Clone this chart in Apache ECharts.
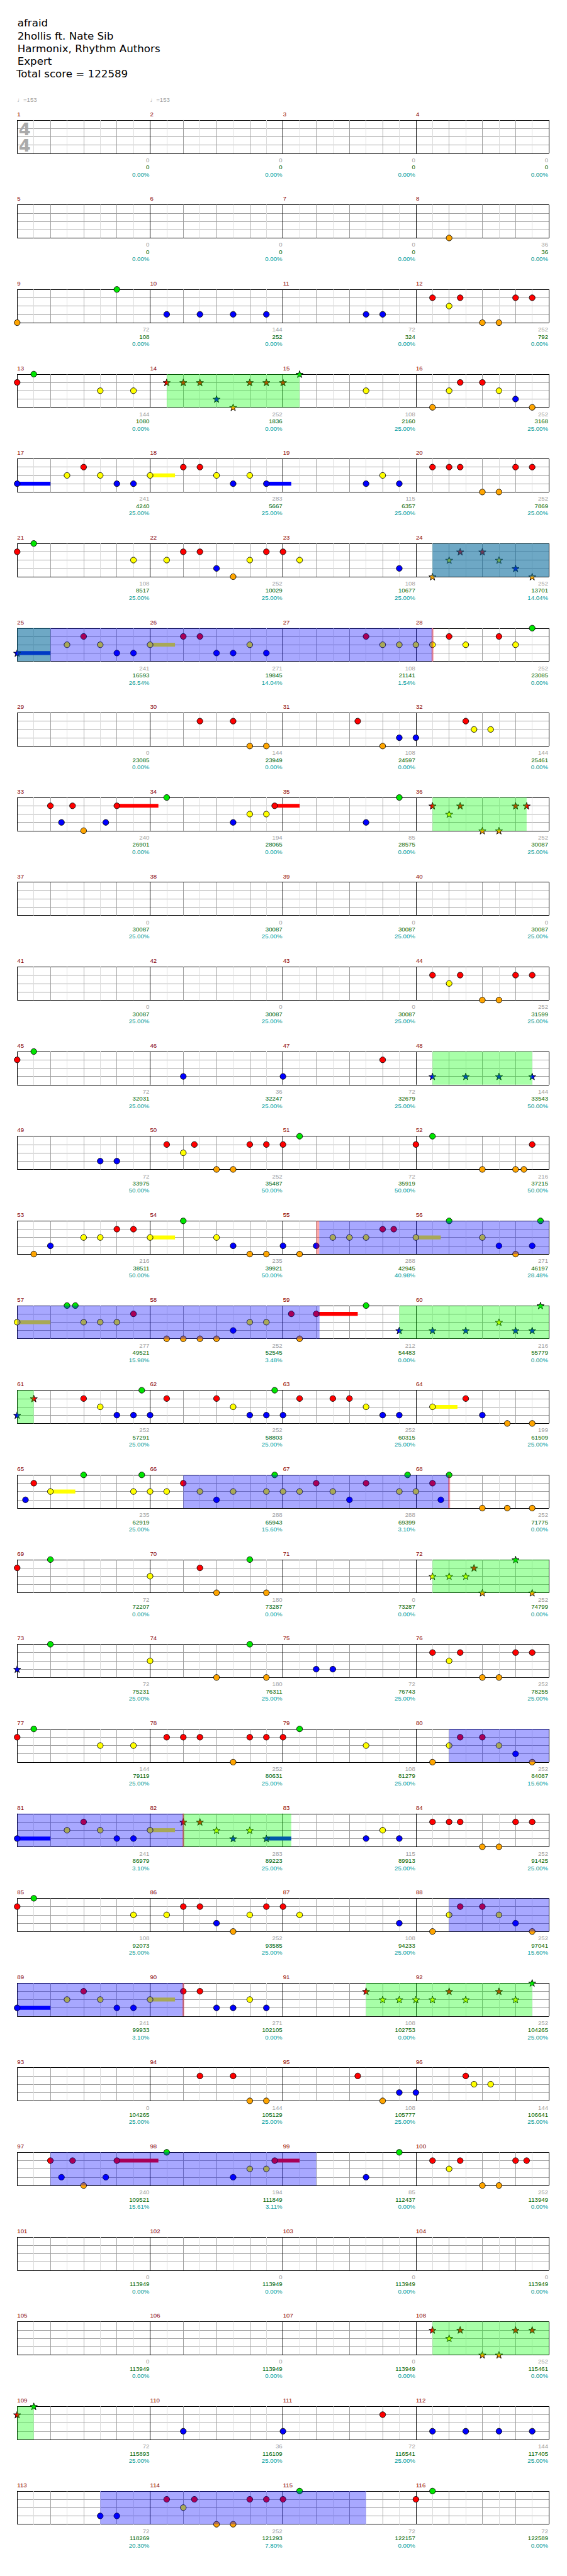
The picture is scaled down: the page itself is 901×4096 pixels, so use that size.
<!DOCTYPE html>
<html><head><meta charset="utf-8">
<script src="https://cdn.jsdelivr.net/npm/echarts@6/dist/echarts.min.js"></script>
<style>html,body{margin:0;padding:0;background:#fff}#c{width:901px;height:4096px}</style>
</head><body><div id="c"></div>
<script>
// ---------------- DATA ----------------
const titleLines = ['afraid', '2hollis ft. Nate Sib', 'Harmonix, Rhythm Authors', 'Expert', 'Total score = 122589'];
const tempoBeats = [0, 4];
const tempoValues = [153, 153];
const measureCount = 116;
const beatsPerMeasure = 4;
const measuresPerRow = 4;

// note positions in global beats (measure n starts at beat 4*(n-1))
const greenNotes = [35, 48.5, 56.5, 80.5, 111.5, 132.5, 139.5, 176.5, 200.5, 204.5, 213, 221, 223.75, 225.5, 225.75, 234.5, 239.75,
  243.75, 247.75, 258, 259.75, 263.75, 267.75, 269, 273, 279, 287, 289, 295, 304.5, 312.5, 336.5, 367.5, 388.5, 395.5, 432.5, 456.5, 460.5];
const redNotes = [44.5, 45.333, 47, 47.5, 48, 52.5, 53, 53.5, 55, 55.5, 56, 61.333, 62, 66, 69, 69.5, 76.5, 77, 77.333, 79, 79.5,
  80, 85, 85.5, 87.5, 88, 93.333, 94, 98, 101, 101.5, 106.5, 109, 110.5, 117.5, 118.5, 122.25, 125.5,
  129, 129.667, 131, 135.75, 140.5, 141.333, 143, 143.333, 172.5, 173.333, 175, 175.5, 176, 187,
  196.5, 197.333, 199, 199.5, 200, 204, 207.5, 211, 211.5, 219, 219.333, 227.5, 232.25, 233,
  240.5, 242, 244.5, 246, 248.5, 249.5, 250, 253.5, 256.5, 261, 265, 266.5, 268.5, 272, 277.5, 285.75,
  300.5, 301.333, 303, 303.5, 304, 308.5, 309, 309.5, 311, 311.5, 312, 317.333, 318, 322, 325, 325.5,
  332.5, 333, 333.333, 335, 335.5, 336, 341, 341.5, 343.5, 344, 349.333, 350, 354, 357, 357.5, 362.5, 365, 366.5,
  373.5, 374.5, 378.25, 381.5, 385, 385.667, 387, 391.75, 396.5, 397.333, 399, 399.333,
  428.5, 429.333, 431, 431.5, 432, 443, 452.5, 453.333, 455, 455.5, 456, 460];
const yellowNotes = [45, 50.5, 51.5, 58.5, 61, 62.5, 65.5, 66.5, 68, 70, 71, 75, 83.5, 84.5, 87, 88.5, 93, 94.5,
  97.5, 98.5, 100, 103, 107, 107.5, 108, 108.5, 109.5, 111, 125.75, 126.25, 135, 135.5, 141, 173, 197,
  210, 210.5, 212, 214, 217.5, 218, 218.5, 220, 222, 224, 226, 226.5, 227, 231, 231.5, 238.5,
  242.5, 246.5, 250.5, 252.5, 257, 259.5, 260, 260.5, 261.5, 262.5, 263.5, 264, 264.5, 265.5, 267.5, 268,
  276, 284.5, 285, 285.5, 292, 301, 306.5, 307.5, 314.5, 317, 318.5, 321.5, 322.5, 324, 326, 327, 331,
  339.5, 340.5, 343, 344.5, 349, 350.5, 353.5, 354.5, 356, 359, 363, 363.5, 364, 364.5, 365.5, 367,
  381.75, 382.25, 391, 391.5, 397, 429, 453];
const blueNotes = [36.5, 37.5, 38.5, 39.5, 42.5, 43, 54, 63, 64, 67, 67.5, 70.5, 71.5, 74.5, 75.5, 86, 91.5, 95,
  96, 99, 99.5, 102, 102.5, 103.5, 123.5, 124, 129.333, 130.667, 134.5, 138.5, 181, 184, 188.5, 189.5, 190.5, 191.5,
  194.5, 195, 209, 214.5, 216, 217, 222.5, 223.5, 230.5, 235.5, 236.5, 237.5, 239, 239.5,
  240, 243, 243.5, 244, 247, 247.5, 248, 251, 251.5, 254, 256.25, 262, 266, 268.75, 288, 297, 297.5, 319,
  320, 323, 323.5, 326.5, 327.5, 330.5, 331.5, 342, 347.5, 351, 352, 355, 355.5, 358, 358.5, 359.5,
  379.5, 380, 385.333, 386.667, 390.5, 394.5, 437, 440, 444.5, 445.5, 446.5, 447.5, 450.5, 451];
const orangeNotes = [29, 32, 46, 46.5, 54.5, 60.5, 63.5, 78, 78.5, 86.5, 92.5, 95.5, 119, 119.5, 123, 130, 142, 142.5,
  174, 174.5, 198, 198.5, 206, 207, 207.25, 208.5, 215, 215.5, 216.5, 223, 228.5, 229, 229.5, 230, 232.5,
  254.75, 255.5, 270, 270.75, 271.5, 278, 279.5, 286, 287.5, 294, 295.5, 302, 302.5, 310.5, 316.5, 319.5,
  334, 334.5, 342.5, 348.5, 351.5, 375, 375.5, 379, 386, 398, 398.5, 430, 430.5, 454, 454.5];

// sustains: lane, start beat, end beat
const sustainLanes = ['blue', 'yellow', 'blue', 'blue', 'yellow', 'red', 'red', 'yellow', 'yellow', 'yellow', 'red', 'yellow',
  'yellow', 'blue', 'yellow', 'blue', 'blue', 'yellow', 'red', 'red'];
const sustainStarts = [64, 68, 71.5, 96, 100, 131, 135.75, 212, 220, 224, 233, 252.5, 257, 320, 324, 327.5, 352, 356, 387, 391.75];
const sustainEnds = [65, 68.75, 72.25, 97, 100.75, 132.25, 136.5, 212.75, 220.75, 225, 234.25, 253.25, 257.75, 321, 324.75, 328.25, 353, 356.75, 388.25, 392.5];

// star power phrases (green) and activations (blue), in beats
const phraseStarts = [52.5, 92.5, 140.5, 188.5, 235.5, 284.5, 325, 362.5, 428.5];
const phraseEnds = [56.5, 97, 143.333, 191.5, 240.5, 288, 328.25, 367.5, 432.5];
const activationStarts = [92.5, 217.09, 261, 317, 349, 385, 450.5];
const activationEnds = [108.5, 233.1, 269, 325, 357, 393, 458.5];
const leewayStarts = [217, 108.47, 268.97, 324.97, 356.97];
const leewayEnds = [217.09, 108.53, 269.03, 325.03, 357.03];

// per-measure texts
const measureBase = [0,0,0,0, 0,0,0,36, 72,144,72,252, 144,252,108,252, 241,283,115,252, 108,252,108,252,
  241,271,108,252, 0,144,108,144, 240,194,85,252, 0,0,0,0, 0,0,0,252, 72,36,72,144, 72,252,72,216,
  216,235,288,271, 277,252,212,216, 252,252,252,199, 235,288,288,252, 72,180,0,252, 72,180,72,252,
  144,252,108,252, 241,283,115,252, 108,252,108,252, 241,271,108,252, 0,144,108,144, 240,194,85,252,
  0,0,0,0, 0,0,0,252, 72,36,72,144, 72,252,72,72];
const measureScore = [0,0,0,0, 0,0,0,36, 108,252,324,792, 1080,1836,2160,3168, 4240,5667,6357,7869,
  8517,10029,10677,13701, 16593,19845,21141,23085, 23085,23949,24597,25461, 26901,28065,28575,30087,
  30087,30087,30087,30087, 30087,30087,30087,31599, 32031,32247,32679,33543, 33975,35487,35919,37215,
  38511,39921,42945,46197, 49521,52545,54483,55779, 57291,58803,60315,61509, 62919,65943,69399,71775,
  72207,73287,73287,74799, 75231,76311,76743,78255, 79119,80631,81279,84087, 86979,89223,89913,91425,
  92073,93585,94233,97041, 99933,102105,102753,104265, 104265,105129,105777,106641, 109521,111849,112437,113949,
  113949,113949,113949,113949, 113949,113949,113949,115461, 115893,116109,116541,117405, 118269,121293,122157,122589];
const measureSpPercent = [0,0,0,0, 0,0,0,0, 0,0,0,0, 0,0,25,25, 25,25,25,25, 25,25,25,14.04,
  26.54,14.04,1.54,0, 0,0,0,0, 0,0,0,25, 25,25,25,25, 25,25,25,25, 25,25,25,50, 50,50,50,50,
  50,50,40.98,28.48, 15.98,3.48,0,0, 25,25,25,25, 25,15.60,3.10,0, 0,0,0,0, 25,25,25,25,
  25,25,25,15.60, 3.10,25,25,25, 25,25,25,15.60, 3.10,0,0,25, 25,25,25,25, 15.61,3.11,0,0,
  0,0,0,0, 0,0,0,0, 25,25,25,25, 20.30,7.80,0,0];

// ---------------- LAYOUT / STYLE ----------------
const S = 0.88;
const BEATS_PER_ROW = beatsPerMeasure * measuresPerRow;
const ROWS = Math.ceil(measureCount / measuresPerRow);
const LEFT = 31 * S, W = 960 * S, H = 60 * S;
const rowTop = k => (217 + 153 * k) * S;
const LANE_Y = { green: 4, red: 3, yellow: 2, blue: 1, orange: 0 };
const LANE_COLOR = { green: '#00e600', red: '#ff0000', yellow: '#ffff00', blue: '#0000ff', orange: '#ffa500' };
const OVERLAY_FILL = ['rgba(0,255,0,0.34)', 'rgba(0,0,255,0.34)', 'rgba(255,0,0,0.34)'];
const STAR = 'path://M0,-10 L2.35,-3.24 L9.51,-3.09 L3.80,1.24 L5.88,8.09 L0,4 L-5.88,8.09 L-3.80,1.24 L-9.51,-3.09 L-2.35,-3.24 Z';
const NOTE_SIZE = 10.5 * S, STAR_SIZE = 13 * S, SUSTAIN_H = 7 * S;

// fit font sizes to the reference text widths
const mctx = document.createElement('canvas').getContext('2d');
function fitSize(text, family, weight, targetW) {
  mctx.font = weight + ' 100px ' + family;
  return 100 * targetW / mctx.measureText(text).width;
}
const TITLE_FAMILY = '"DejaVu Sans", sans-serif';
const SMALL_FAMILY = '"Liberation Sans", Arial, sans-serif';
const titleSize = fitSize('Harmonix, Rhythm Authors', TITLE_FAMILY, 'normal', 258 * S);
const smallSize = Math.min(11 * S, fitSize('0.00%', SMALL_FAMILY, 'normal', 32 * S));
const TITLE_FONT = titleSize.toFixed(2) + 'px ' + TITLE_FAMILY;
const SMALL_FONT = smallSize.toFixed(2) + 'px ' + SMALL_FAMILY;

const lanes = [['green', greenNotes], ['red', redNotes], ['yellow', yellowNotes], ['blue', blueNotes], ['orange', orangeNotes]];
const phrases = phraseStarts.map((s, i) => [s, phraseEnds[i]]);
const activations = activationStarts.map((s, i) => [s, activationEnds[i]]);
const leeways = leewayStarts.map((s, i) => [s, leewayEnds[i]]);
const isStar = p => phrases.some(r => p >= r[0] - 1e-6 && p <= r[1] + 1e-6);
function clip(ranges, r0, r1) {
  const out = [];
  ranges.forEach(([a, b]) => { const s = Math.max(a, r0), e = Math.min(b, r1); if (e > s + 1e-9) out.push([s - r0, e - r0]); });
  return out;
}

const grids = [], xAxes = [], yAxes = [], series = [];
const xLineColors = ['#000000', '#dcdcdc', '#a0a0a0', '#dcdcdc', '#a0a0a0', '#dcdcdc', '#a0a0a0', '#dcdcdc'];
for (let k = 0; k < ROWS; k++) {
  const r0 = k * BEATS_PER_ROW, r1 = r0 + BEATS_PER_ROW;
  grids.push({ left: LEFT, top: rowTop(k), width: W, height: H, containLabel: false, outerBoundsMode: 'none' });
  xAxes.push({ gridIndex: k, type: 'value', min: 0, max: BEATS_PER_ROW, interval: 0.5,
    axisLine: { show: false }, axisTick: { show: false }, axisLabel: { show: false },
    splitLine: { show: true, showMinLine: true, showMaxLine: true, lineStyle: { color: xLineColors, width: 1 } } });
  yAxes.push({ gridIndex: k, type: 'value', min: 0, max: 4, interval: 1,
    axisLine: { show: false }, axisTick: { show: false }, axisLabel: { show: false },
    splitLine: { show: true, showMinLine: true, showMaxLine: true, lineStyle: { color: ['#000000', '#a0a0a0', '#a0a0a0', '#a0a0a0', '#000000'], width: 1 } } });

  // sustains
  const sus = [];
  sustainStarts.forEach((s, i) => {
    clip([[s, sustainEnds[i]]], r0, r1).forEach(([a, b]) => sus.push([a, b, LANE_Y[sustainLanes[i]]]));
  });
  series.push({ type: 'custom', xAxisIndex: k, yAxisIndex: k, z: 1, silent: true, clip: false, data: sus,
    renderItem: (params, api) => {
      const p0 = api.coord([api.value(0), api.value(2)]), p1 = api.coord([api.value(1), api.value(2)]);
      const lane = Object.keys(LANE_Y).find(n => LANE_Y[n] === api.value(2));
      return { type: 'rect', shape: { x: p0[0], y: p0[1] - SUSTAIN_H / 2, width: p1[0] - p0[0], height: SUSTAIN_H },
        style: { fill: LANE_COLOR[lane] } };
    } });

  // notes
  const pts = [];
  lanes.forEach(([name, arr]) => {
    arr.forEach(p => {
      if (p >= r0 - 1e-6 && p < r1 - 1e-6) {
        const star = isStar(p);
        pts.push({ value: [p - r0, LANE_Y[name]], symbol: star ? STAR : 'circle',
          symbolSize: star ? STAR_SIZE : NOTE_SIZE, itemStyle: { color: LANE_COLOR[name] } });
      }
    });
  });
  series.push({ type: 'scatter', xAxisIndex: k, yAxisIndex: k, z: 2, silent: true, clip: false, symbolKeepAspect: true,
    itemStyle: { borderColor: '#000', borderWidth: 0.9, opacity: 1 }, data: pts });

  // overlays
  const ov = [];
  clip(phrases, r0, r1).forEach(([a, b]) => ov.push([a, b, 0]));
  clip(activations, r0, r1).forEach(([a, b]) => ov.push([a, b, 1]));
  clip(leeways, r0, r1).forEach(([a, b]) => ov.push([a, b, 2]));
  series.push({ type: 'custom', xAxisIndex: k, yAxisIndex: k, z: 3, silent: true, clip: false, data: ov,
    renderItem: (params, api) => {
      const p0 = api.coord([api.value(0), 4]), p1 = api.coord([api.value(1), 0]);
      return { type: 'rect', shape: { x: p0[0], y: p0[1], width: p1[0] - p0[0], height: p1[1] - p0[1] },
        style: { fill: OVERLAY_FILL[api.value(2)] } };
    } });
}

const chart = echarts.init(document.getElementById('c'), null, { renderer: 'svg', width: 901, height: 4096 });
chart.setOption({ animation: false, backgroundColor: '#ffffff', grid: grids, xAxis: xAxes, yAxis: yAxes, series: series });

// ---------------- TEXT ----------------
const g = [];
titleLines.forEach((t, i) => {
  g.push({ type: 'text', silent: true, x: (i === 4 ? 29.5 : 31.5) * S, y: (42 + 23 * i) * S,
    style: { text: t, font: TITLE_FONT, fill: '#000', align: 'left', verticalAlign: 'middle' } });
});
const px = (k, x, y) => chart.convertToPixel({ gridIndex: k }, [x, y]);
// tempo marks
tempoBeats.forEach((b, i) => {
  const k = Math.floor(b / BEATS_PER_ROW);
  const p = px(k, b - k * BEATS_PER_ROW, 4);
  g.push({ type: 'text', silent: true, x: p[0], y: p[1] - 37 * S,
    style: { text: '\u2669=' + tempoValues[i], font: SMALL_FONT, fill: '#a0a0a0', align: 'left', verticalAlign: 'middle' } });
});
// time signature
{
  const p = px(0, 0, 4);
  ['4', '4'].forEach((d, i) => g.push({ type: 'text', silent: true, x: p[0] + 13.5 * S, y: p[1] + (16.3 + 30 * i) * S,
    style: { text: d, font: 'bold ' + (31 * S).toFixed(1) + 'px "DejaVu Sans", sans-serif', fill: '#aaaaaa', align: 'center', verticalAlign: 'middle' } }));
}
for (let m = 0; m < measureCount; m++) {
  const k = Math.floor(m / measuresPerRow);
  const j = m % measuresPerRow;
  const start = px(k, j * beatsPerMeasure, 4);
  const end = px(k, (j + 1) * beatsPerMeasure, 0);
  g.push({ type: 'text', silent: true, x: start[0], y: start[1] - 11 * S,
    style: { text: String(m + 1), font: SMALL_FONT, fill: '#8b0000', align: 'left', verticalAlign: 'middle' } });
  const rx = end[0] - 1;
  g.push({ type: 'text', silent: true, x: rx, y: end[1] + 12 * S,
    style: { text: String(measureBase[m]), font: SMALL_FONT, fill: '#a0a0a0', align: 'right', verticalAlign: 'middle' } });
  g.push({ type: 'text', silent: true, x: rx, y: end[1] + 25 * S,
    style: { text: String(measureScore[m]), font: SMALL_FONT, fill: '#006400', align: 'right', verticalAlign: 'middle' } });
  g.push({ type: 'text', silent: true, x: rx, y: end[1] + 38 * S,
    style: { text: measureSpPercent[m].toFixed(2) + '%', font: SMALL_FONT, fill: '#009c9c', align: 'right', verticalAlign: 'middle' } });
}
chart.setOption({ graphic: g });
</script>
</body></html>
